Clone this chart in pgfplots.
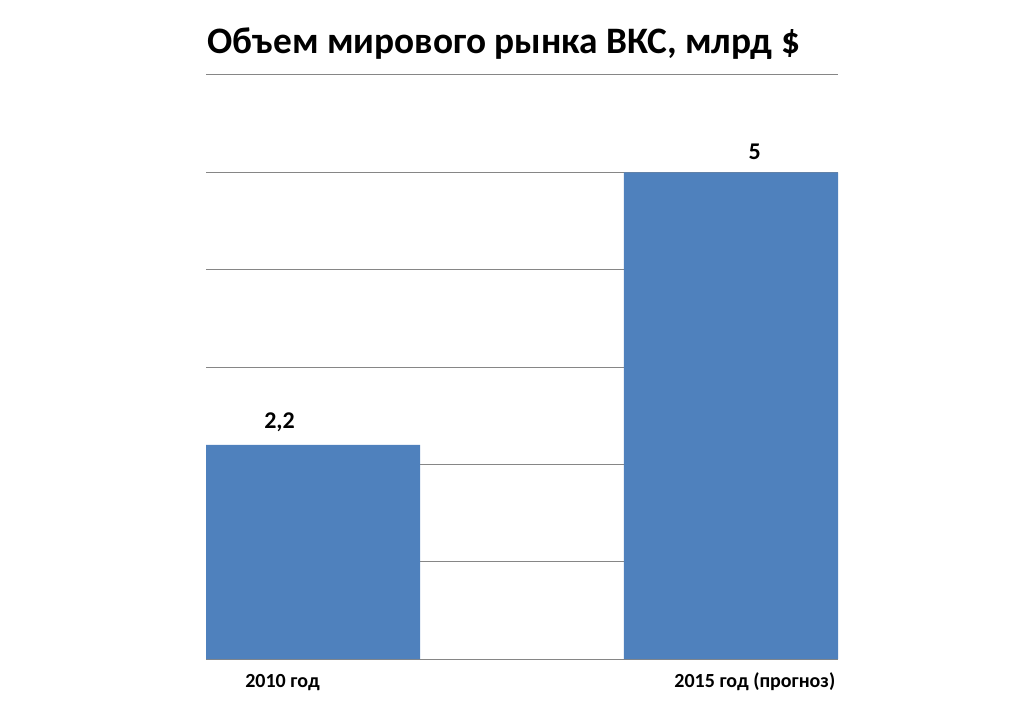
\documentclass[border=0pt]{standalone}
\usepackage{fontspec}
\setmainfont{Carlito}
\usepackage{pgfplots}
\pgfplotsset{compat=1.18}
\definecolor{barblue}{HTML}{4F81BD}
\definecolor{gridgray}{HTML}{868686}
\begin{document}
\begin{tikzpicture}
% 1 px of the reference = 0.75pt
\useasboundingbox (-154.5pt,-33.75pt) rectangle (602.25pt,494.25pt);
\begin{axis}[
    at={(0pt,0pt)}, anchor=south west,
    scale only axis,
    width=474pt, height=438pt,
    ymin=0, ymax=6,
    xmin=-0.256, xmax=1.256,
    ytick={0,1,2,3,4,5,6},
    yticklabels={},
    ymajorgrids,
    grid style={gridgray, line width=0.75pt},
    axis line style={draw=none},
    tick style={draw=none},
    xtick={-0.073,1.057},
    xticklabels={2010 год, 2015 год (прогноз)},
    xticklabel style={font=\fontsize{15}{17}\selectfont\bfseries, anchor=base, yshift=-21pt},
    /pgf/number format/assume math mode=true,
    /pgf/number format/use comma,
]
\addplot[ybar, bar width=0.512, fill=barblue, draw=none, bar shift=0pt]
    coordinates {(0,2.2) (1,5)};
\addplot[draw=none, mark=none, nodes near coords,
    every node near coord/.append style={font=\fontsize{18}{20}\selectfont\bfseries, anchor=south, yshift=6pt}]
    coordinates {(-0.08,2.2) (1.057,5)};
\end{axis}
\node[anchor=base west, inner sep=0pt, font=\fontsize{28}{32}\selectfont\bfseries]
    at (1pt,454pt) {Объем мирового рынка ВКС, млрд \$};
\end{tikzpicture}
\end{document}
